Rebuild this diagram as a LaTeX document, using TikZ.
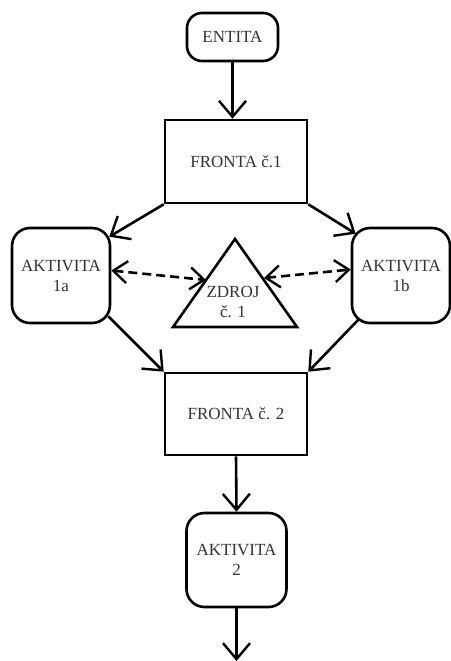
\documentclass[tikz,border=0pt]{standalone}
\usepackage{fontspec}
\setmainfont{Liberation Serif}
\usetikzlibrary{arrows.meta,calc}

\tikzset{
  lbl/.style={font=\fontsize{17}{20}\selectfont, text=black!80, align=center},
  box/.style={draw, line width=2.6pt, lbl, inner sep=0pt},
  roundbox/.style={box, rounded corners=18pt},
  barb/.style={Straight Barb[length=16pt,width=27pt,line width=2.4pt]},
  smallbarb/.style={Straight Barb[length=14pt,width=22pt,line width=2.4pt]},
  flow/.style={line width=2.6pt, -{Straight Barb[length=16pt,width=27pt,line width=2.4pt]}},
  share/.style={line width=2.6pt, dash pattern=on 9pt off 5pt,
    {Straight Barb[length=14pt,width=22pt,line width=2.4pt]}-{Straight Barb[length=14pt,width=22pt,line width=2.4pt]}}
}

\begin{document}
\begin{tikzpicture}[x=1pt,y=-1pt]
\useasboundingbox (0,0) rectangle (450,661);

% entity source
\node[box, rounded corners=15pt, minimum width=91pt, minimum height=48pt] (entita) at (232.5,37) {ENTITA};

% queues
\node[box, minimum width=142pt, minimum height=83pt] (fronta1) at (236,161.5) {FRONTA č.1};
\node[box, minimum width=142pt, minimum height=82pt] (fronta2) at (236,414) {FRONTA č. 2};

% activities
\node[roundbox, minimum width=98pt, minimum height=95pt] (a1a) at (61,275.5) {AKTIVITA\\1a};
\node[roundbox, minimum width=98pt, minimum height=95pt] (a1b) at (401,275.5) {AKTIVITA\\1b};
\node[roundbox, minimum width=100pt, minimum height=94pt, text depth=-8pt] (a2) at (236.5,560) {AKTIVITA\\2};

% shared resource
\draw[line width=2.6pt, line join=miter] (173,327) -- (235,239) -- (297,327) -- cycle;
\node[lbl] (zdroj) at (233,302) {ZDROJ\\č. 1};
\coordinate (zl) at (206,280);
\coordinate (zr) at (264,278);

% flow
\draw[flow] (entita.south) -- (entita.south |- fronta1.north);
\draw[flow] (fronta1.south west) -- ([xshift=-2pt,yshift=-10pt]a1a.north east);
\draw[flow] (fronta1.south east) -- ([xshift=5pt,yshift=-7pt]a1b.north west);
\draw[flow] ([xshift=-3pt,yshift=8pt]a1a.south east) -- (fronta2.north west);
\draw[flow] ([xshift=8pt,yshift=5pt]a1b.south west) -- (fronta2.north east);
\draw[flow] (fronta2.south) -- (a2.north);
\coordinate (out) at (236.5,661);
\draw[flow] (a2.south) -- (out);

% resource usage
\draw[share] ([yshift=5pt]a1a.east) -- (zl);
\draw[share] (zr) -- ([yshift=6pt]a1b.west);
\end{tikzpicture}
\end{document}
